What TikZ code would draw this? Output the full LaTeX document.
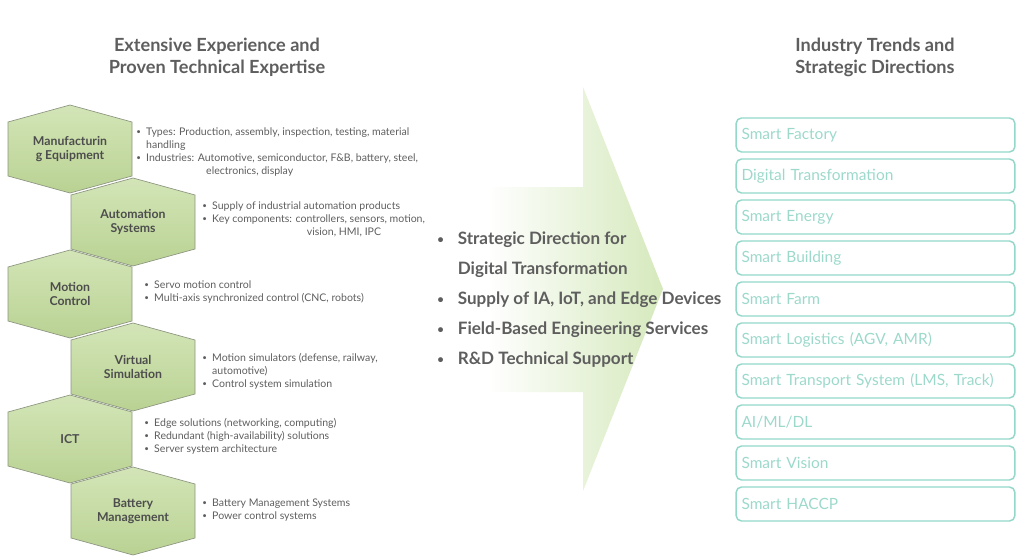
\documentclass[tikz,border=0pt]{standalone}
\usepackage{fontspec}
\setmainfont{Lato}[BoldFont={Lato Bold}]
\usetikzlibrary{shapes}

\definecolor{hexTop}{HTML}{D3E5B7}
\definecolor{hexBottom}{HTML}{B9D293}
\definecolor{hexLine}{HTML}{8C9580}
\definecolor{darkText}{HTML}{4D4D4D}
\definecolor{itemText}{HTML}{5E5E5E}
\definecolor{arrowGreen}{HTML}{D5E9BC}
\definecolor{boxLine}{HTML}{94D8C9}
\definecolor{boxText}{HTML}{9CD9CB}

\newcommand{\HexVertex}[4]{%
  \draw[hexStyle] (#1,#2) ++(0,-44) -- ++(62,17) -- ++(0,54) -- ++(-62,17)
    -- ++(-62,-17) -- ++(0,-54) -- cycle;
  \node[hexLabel] (#3) at (#1,#2) {#4};}
\newcommand{\bl}{\raisebox{0.8pt}{\fontsize{6}{6}\selectfont\textbullet}\hspace{4pt}}
\newcommand{\ind}{\hphantom{\bl}}
\newcommand{\kb}{\raisebox{1.3pt}{\fontsize{8.5}{8.5}\selectfont\textbullet}\hspace{10.5pt}}

\begin{document}
\begin{tikzpicture}[x=0.75pt, y=-0.75pt, font=\fontsize{7.9}{9.75}\selectfont]
	\tikzstyle{hexStyle}=[draw=hexLine, line width=0.5pt, top color=hexTop, bottom color=hexBottom]
	\tikzstyle{hexLabel}=[font=\fontsize{9.2}{10.5}\selectfont\bfseries, text=darkText, align=center, inner sep=0pt]
	\tikzstyle{itemStyle}=[anchor=west, inner sep=0pt, align=left, text=itemText]
	\tikzstyle{titleStyle}=[font=\fontsize{13.6}{16.5}\selectfont\bfseries, text=itemText, align=center, inner sep=0pt]
	\tikzstyle{keyStyle}=[anchor=west, inner sep=0pt, align=left, text=itemText, font=\fontsize{12.8}{22.5}\selectfont\bfseries]
	\tikzstyle{boxStyle}=[draw=boxLine, line width=1.1pt, rounded corners=4pt, minimum height=25.5pt, text width=201pt, inner xsep=4pt, align=left, text=boxText, font=\fontsize{11.6}{13}\selectfont]
	\useasboundingbox (0,0) rectangle (1024,560);
	\node[titleStyle] (t0) at (217,57) {Extensive Experience and\\Proven Technical Expertise};
	\node[titleStyle] (t1) at (875,57) {Industry Trends and\\Strategic Directions};
	\shade[left color=white, right color=arrowGreen] (488,187) -- (583,187) -- (583,87) -- (663,289) -- (583,491) -- (583,392) -- (488,392) -- cycle;
	\HexVertex{70}{149}{h0}{Manufacturin\\g Equipment}
	\HexVertex{133}{222}{h1}{Automation\\Systems}
	\HexVertex{70}{294}{h2}{Motion\\Control}
	\HexVertex{133}{367}{h3}{Virtual\\Simulation}
	\HexVertex{70}{439}{h4}{ICT}
	\HexVertex{133}{511}{h5}{Battery\\Management}
	\node[itemStyle] (i0) at (136,152) {\bl Types: Production, assembly, inspection, testing, material\\\ind handling\\\bl Industries: Automotive, semiconductor, F\&B, battery, steel,\\\ind\hspace*{45pt}electronics, display};
	\node[itemStyle] (i1) at (202,219.5) {\bl Supply of industrial automation products\\\bl Key components: controllers, sensors, motion,\\\ind\hspace*{71pt}vision, HMI, IPC};
	\node[itemStyle] (i2) at (144,292) {\bl Servo motion control\\\bl Multi-axis synchronized control (CNC, robots)};
	\node[itemStyle] (i3) at (202,371) {\bl Motion simulators (defense, railway,\\\ind automotive)\\\bl Control system simulation};
	\node[itemStyle] (i4) at (144,436.5) {\bl Edge solutions (networking, computing)\\\bl Redundant (high-availability) solutions\\\bl Server system architecture};
	\node[itemStyle] (i5) at (202,510.5) {\bl Battery Management Systems\\\bl Power control systems};
	\node[keyStyle] (k0) at (437,300) {\kb Strategic Direction for\\\hphantom{\kb}Digital Transformation\\\kb Supply of IA, IoT, and Edge Devices\\\kb Field-Based Engineering Services\\\kb R\&D Technical Support};
	\node[boxStyle] (b0) at (875.5,135) {Smart Factory};
	\node[boxStyle] (b1) at (875.5,176) {Digital Transformation};
	\node[boxStyle] (b2) at (875.5,217) {Smart Energy};
	\node[boxStyle] (b3) at (875.5,258) {Smart Building};
	\node[boxStyle] (b4) at (875.5,299) {Smart Farm};
	\node[boxStyle] (b5) at (875.5,340) {Smart Logistics (AGV, AMR)};
	\node[boxStyle] (b6) at (875.5,381) {Smart Transport System (LMS, Track)};
	\node[boxStyle] (b7) at (875.5,422) {AI/ML/DL};
	\node[boxStyle] (b8) at (875.5,463) {Smart Vision};
	\node[boxStyle] (b9) at (875.5,504) {Smart HACCP};
\end{tikzpicture}
\end{document}
